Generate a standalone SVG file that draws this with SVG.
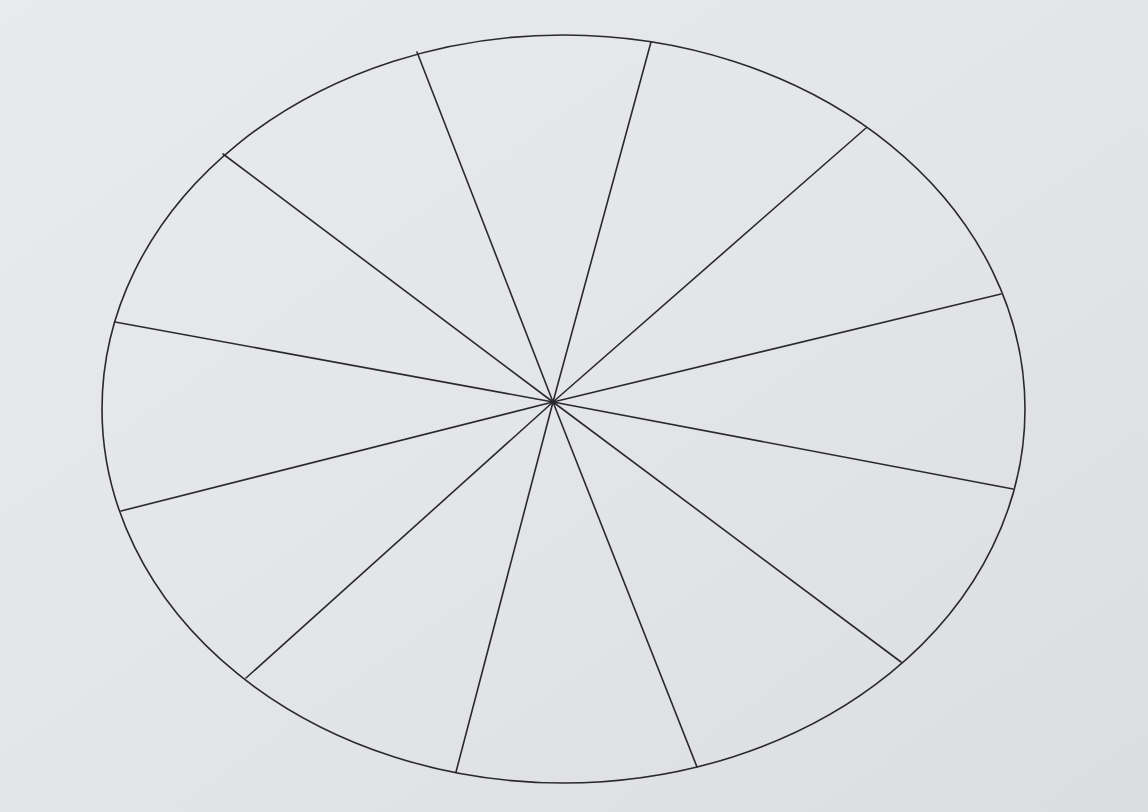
<svg xmlns="http://www.w3.org/2000/svg" width="1148" height="812" viewBox="0 0 1148 812">
<defs>
<style>
.ln{stroke:#2a2a2e;stroke-width:1.6;fill:none;stroke-linecap:round}
</style>
<linearGradient id="bg" x1="0" y1="0" x2="1" y2="1">
<stop offset="0" stop-color="#e9eaec"/>
<stop offset="0.5" stop-color="#e4e5e8"/>
<stop offset="1" stop-color="#dcdde0"/>
</linearGradient>
</defs>
<rect x="0" y="0" width="1148" height="812" fill="url(#bg)"/>
<g id="ellipse">
<ellipse class="ln" cx="563.5" cy="409" rx="461.5" ry="374"/>
</g>
<g id="connectors">
<line class="ln" x1="553" y1="402" x2="417" y2="52"/>
<line class="ln" x1="553" y1="402" x2="651" y2="42"/>
<line class="ln" x1="553" y1="402" x2="866" y2="128"/>
<line class="ln" x1="553" y1="402" x2="1001" y2="294"/>
<line class="ln" x1="553" y1="402" x2="1013" y2="489"/>
<line class="ln" x1="553" y1="402" x2="901" y2="662"/>
<line class="ln" x1="553" y1="402" x2="697" y2="767"/>
<line class="ln" x1="553" y1="402" x2="456" y2="772"/>
<line class="ln" x1="553" y1="402" x2="246" y2="678"/>
<line class="ln" x1="553" y1="402" x2="121" y2="511"/>
<line class="ln" x1="553" y1="402" x2="115" y2="322"/>
<line class="ln" x1="553" y1="402" x2="223" y2="154"/>
</g>
</svg>
